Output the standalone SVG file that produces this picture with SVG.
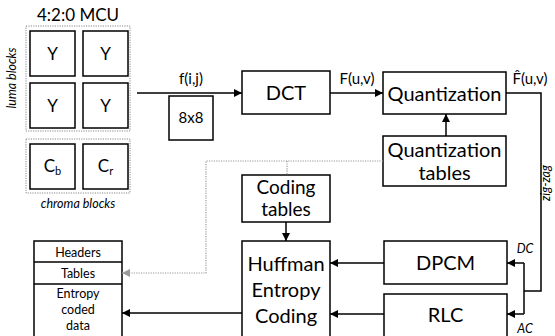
<svg xmlns="http://www.w3.org/2000/svg" width="555" height="336" viewBox="0 0 555 336">
<defs>
<style>
.b{fill:#fff;stroke:#000;stroke-width:1.5}
.d{fill:none;stroke:#888;stroke-width:1;stroke-dasharray:1.2 1.2}
.t{font-family:Lato,"Open Sans","Liberation Sans",sans-serif;fill:#000;text-anchor:middle}
.L{font-size:20px}
.M{font-size:15px}
.Y{font-size:17px}
.S{font-size:12.5px}
.i{font-style:italic}
.c{fill:none;stroke:#000;stroke-width:1.5}
.g{fill:none;stroke:#999;stroke-width:1.2;stroke-dasharray:1.2 1.2}
</style>
<marker id="a" viewBox="0 0 10 10" refX="10" refY="5" markerWidth="8" markerHeight="8" markerUnits="userSpaceOnUse" orient="auto"><path d="M0,0L10,5L0,10z" fill="#000"/></marker>
<marker id="ag" viewBox="0 0 10 10" refX="10" refY="5" markerWidth="8" markerHeight="8" markerUnits="userSpaceOnUse" orient="auto"><path d="M0,0L10,5L0,10z" fill="#999"/></marker>
</defs>
<rect width="555" height="336" fill="#fff"/>

<g id="mcu">
<text class="t Y" x="78" y="21">4:2:0 MCU</text>
<rect class="d" x="26" y="26" width="104" height="105"/>
<rect class="b" x="30" y="31" width="45" height="45"/>
<rect class="b" x="83" y="31" width="45" height="45"/>
<rect class="b" x="30" y="83" width="45" height="45"/>
<rect class="b" x="83" y="83" width="45" height="45"/>
<text class="t Y" x="52.5" y="60">Y</text>
<text class="t Y" x="105.5" y="60">Y</text>
<text class="t Y" x="52.5" y="112">Y</text>
<text class="t Y" x="105.5" y="112">Y</text>
<text class="t S i" transform="translate(16,78) rotate(-90)">luma blocks</text>
<rect class="d" x="26" y="139" width="104" height="54"/>
<rect class="b" x="30" y="144" width="45" height="45"/>
<rect class="b" x="83" y="144" width="45" height="45"/>
<text class="t Y" x="52.5" y="172">C<tspan font-size="11" dy="3">b</tspan></text>
<text class="t Y" x="105.5" y="172">C<tspan font-size="11" dy="3">r</tspan></text>
<text class="t S i" x="78" y="208">chroma blocks</text>
</g>

<g id="block8x8">
<rect class="b" x="169" y="96" width="44" height="44"/>
<text class="t M" x="191" y="123">8x8</text>
</g>

<g id="dct">
<rect class="b" x="242" y="71" width="88" height="43"/>
<text class="t L" x="286" y="100">DCT</text>
</g>

<g id="quant">
<rect class="b" x="383" y="72" width="123" height="42"/>
<text class="t L" x="444.5" y="101">Quantization</text>
</g>

<g id="qtables">
<rect class="b" x="383" y="136" width="123" height="50"/>
<text class="t L" x="444.5" y="157">Quantization</text>
<text class="t L" x="444.5" y="180">tables</text>
</g>

<g id="ctables">
<rect class="b" x="242" y="175" width="88" height="47"/>
<text class="t" font-size="19" x="286" y="194">Coding</text>
<text class="t" font-size="19" x="286" y="216">tables</text>
</g>

<g id="huffman">
<rect class="b" x="242" y="241" width="88" height="100"/>
<text class="t L" x="286" y="271">Huffman</text>
<text class="t L" x="286" y="297">Entropy</text>
<text class="t L" x="286" y="323">Coding</text>
</g>

<g id="dpcm">
<rect class="b" x="384" y="241" width="123" height="43"/>
<text class="t L" x="445.5" y="270">DPCM</text>
</g>

<g id="rlc">
<rect class="b" x="384" y="294" width="123" height="47"/>
<text class="t L" x="445.5" y="322">RLC</text>
</g>

<g id="output">
<rect class="b" x="34" y="241" width="88" height="100"/>
<line class="c" x1="34" y1="262" x2="122" y2="262"/>
<line class="c" x1="34" y1="284" x2="122" y2="284"/>
<text class="t S" x="78" y="257">Headers</text>
<text class="t S" x="78" y="278">Tables</text>
<text class="t S" x="78" y="298">Entropy</text>
<text class="t S" x="78" y="314">coded</text>
<text class="t S" x="78" y="330">data</text>
</g>

<g id="connectors">
<line class="c" x1="137" y1="93" x2="242" y2="93" marker-end="url(#a)"/>
<text class="t M" x="191" y="84">f(i,j)</text>
<line class="c" x1="330" y1="93" x2="383" y2="93" marker-end="url(#a)"/>
<text class="t M" x="357" y="84">F(u,v)</text>
<line class="c" x1="446" y1="136" x2="446" y2="114" marker-end="url(#a)"/>
<polyline class="c" points="506,93 541,93 541,291 524,291"/>
<text class="t M" x="530" y="84">F̂(u,v)</text>
<text class="t S i" transform="translate(550,183) rotate(-90)">zig-zag</text>
<polyline class="c" points="524,263 524,314"/>
<line class="c" x1="524" y1="263" x2="507" y2="263" marker-end="url(#a)"/>
<line class="c" x1="524" y1="314" x2="507" y2="314" marker-end="url(#a)"/>
<text class="t S i" x="525" y="253">DC</text>
<text class="t S i" x="525" y="333">AC</text>
<line class="c" x1="384" y1="263" x2="330" y2="263" marker-end="url(#a)"/>
<line class="c" x1="384" y1="314" x2="330" y2="314" marker-end="url(#a)"/>
<line class="c" x1="286" y1="222" x2="286" y2="241" marker-end="url(#a)"/>
<line class="c" x1="242" y1="313" x2="122" y2="313" marker-end="url(#a)"/>
<polyline class="g" points="383,161 206,161 206,273 122,273" marker-end="url(#ag)"/>
<line class="g" x1="287" y1="161" x2="287" y2="175"/>
</g>
</svg>
